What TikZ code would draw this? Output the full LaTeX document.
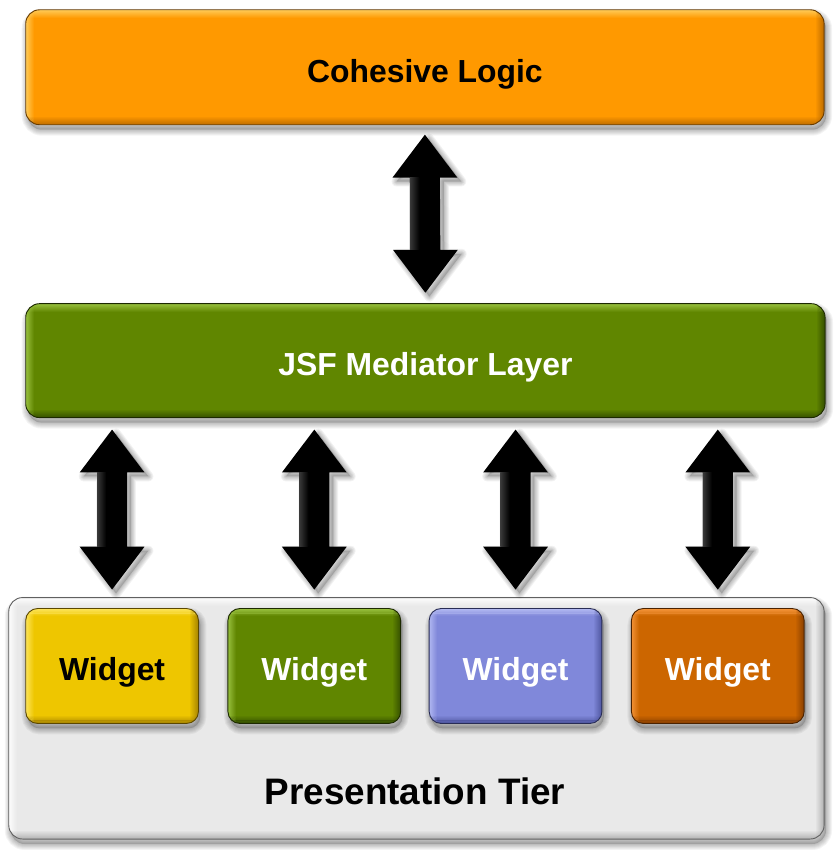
\documentclass[tikz,border=0pt]{standalone}
\usepackage{fontspec}
\setmainfont{Liberation Sans}
\usetikzlibrary{calc}
\pgfdeclarelayer{background}
\pgfsetlayers{background,main}

\definecolor{orangemain}{RGB}{255,153,0}
\definecolor{orangelight}{RGB}{255,210,100}
\definecolor{orangedark}{RGB}{185,105,0}
\definecolor{greenmain}{RGB}{96,134,0}
\definecolor{greenlight}{RGB}{160,200,70}
\definecolor{greendark}{RGB}{50,75,0}
\definecolor{yellowmain}{RGB}{238,198,0}
\definecolor{yellowlight}{RGB}{255,232,100}
\definecolor{yellowdark}{RGB}{165,130,0}
\definecolor{bluemain}{RGB}{128,136,218}
\definecolor{bluelight}{RGB}{185,192,245}
\definecolor{bluedark}{RGB}{75,82,155}
\definecolor{rustmain}{RGB}{204,102,0}
\definecolor{rustlight}{RGB}{250,155,65}
\definecolor{rustdark}{RGB}{135,62,0}
\definecolor{tiermain}{RGB}{233,233,233}
\definecolor{tierlight}{RGB}{255,255,255}
\definecolor{tierdark}{RGB}{175,175,175}

% soft drop shadow under a named box node: #1 node, #2 corner radius
\newcommand\boxshadow[2]{%
  \fill[black, opacity=0.16, rounded corners=#2]
    ($(#1.south west)+(2,5)$) rectangle ($(#1.north east)+(2,5)$);
  \foreach \k in {1,...,6}{%
    \draw[black, draw opacity=0.045, line width=2*\k pt, rounded corners=#2]
      ($(#1.south west)+(2,5)$) rectangle ($(#1.north east)+(2,5)$);
  }%
}

% bevelled fill of a named box node: #1 node, #2 radius, #3 main, #4 light, #5 dark
\newcommand\bevel[5]{%
  \begin{scope}
    \clip[rounded corners=#2] (#1.south west) rectangle (#1.north east);
    \fill[#3] (#1.south west) rectangle (#1.north east);
    \foreach \i in {0,...,7}{%
      \pgfmathsetmacro\op{0.85*(1-\i/8)}%
      \fill[#4, opacity=\op] ($(#1.north west)+(0,\i)$) rectangle ($(#1.north east)+(0,\i+1)$);
      \fill[#4, opacity=\op] ($(#1.north west)+(\i,0)$) rectangle ($(#1.south west)+(\i+1,0)$);
      \fill[#5, opacity=\op] ($(#1.south west)+(0,-\i)$) rectangle ($(#1.south east)+(0,-\i-1)$);
      \fill[#5, opacity=\op] ($(#1.north east)+(-\i,0)$) rectangle ($(#1.south east)+(-\i-1,0)$);
    }%
  \end{scope}
  \draw[#5!55!black, line width=0.9pt, rounded corners=#2]
    (#1.south west) rectangle (#1.north east);
}

% outline of a vertical double arrow between two tips, offset by (#3,#4)
\newcommand\arrowshape[5]{%
  \path[#5] ($(#1)+(#3,#4)$)
    -- ($(#1)+(32.5+#3,43+#4)$) -- ($(#1)+(15+#3,43+#4)$)
    -- ($(#2)+(15+#3,-43+#4)$) -- ($(#2)+(32.5+#3,-43+#4)$)
    -- ($(#2)+(#3,#4)$)
    -- ($(#2)+(-32.5+#3,-43+#4)$) -- ($(#2)+(-15+#3,-43+#4)$)
    -- ($(#1)+(-15+#3,43+#4)$) -- ($(#1)+(-32.5+#3,43+#4)$) -- cycle;%
}

% black double arrow with soft shadow: #1 upper tip, #2 lower tip
\newcommand\dblarrow[2]{%
  \arrowshape{#1}{#2}{4}{4}{fill=black, opacity=0.16}
  \foreach \k in {1,...,5}{%
    \arrowshape{#1}{#2}{4}{4}{draw=black, draw opacity=0.05, line width=2*\k pt, line join=round}
  }%
  \arrowshape{#1}{#2}{0}{0}{fill=black}
  \shade[left color=black!78, right color=black]
    ($(#1)+(-15,43)$) rectangle ($(#2)+(-6,-43)$);
}

\begin{document}
\begin{tikzpicture}[x=1pt,y=-1pt,
  slab/.style={inner sep=0pt, text height=30pt, text depth=0pt,
    font=\fontsize{32}{38}\selectfont\bfseries},
  layer/.style={slab, minimum height=115pt},
  widget/.style={slab, minimum width=173pt, minimum height=115pt},
]
% layers
\node[layer, minimum width=801pt, text=black] (logic) at (426.5,67.5) {Cohesive Logic};
\node[layer, minimum width=802pt, minimum height=114pt, text=white] (jsf) at (427,362) {JSF Mediator Layer};
\node[inner sep=0pt, minimum width=818pt, minimum height=242pt] (tier) at (418,721) {};
\node[anchor=base, inner sep=0pt, font=\fontsize{37}{44}\selectfont\bfseries]
  (tierlabel) at (416.5,808) {Presentation Tier};

% widgets
\node[widget, text=black] (w1) at (112.5,668.5) {Widget};
\node[widget, text=white] (w2) at (315.5,668.5) {Widget};
\node[widget, text=white] (w3) at (517.5,668.5) {Widget};
\node[widget, text=white] (w4) at (720.5,668.5) {Widget};

% arrow tips
\coordinate (a0t) at ($(logic.south)+(0,10)$);
\coordinate (a0b) at ($(jsf.north)+(0,-11)$);
\foreach \w in {w1,w2,w3,w4}{%
  \coordinate (\w t) at ($(\w.north |- jsf.south)+(0,12)$);
  \coordinate (\w b) at ($(\w.north)+(0,-19)$);
}

\begin{pgfonlayer}{background}
  \fill[white] (0,0) rectangle (837,850);
  \boxshadow{logic}{14pt}
  \bevel{logic}{14pt}{orangemain}{orangelight}{orangedark}
  \boxshadow{jsf}{14pt}
  \bevel{jsf}{14pt}{greenmain}{greenlight}{greendark}
  \boxshadow{tier}{14pt}
  \bevel{tier}{14pt}{tiermain}{tierlight}{tierdark}
  \boxshadow{w1}{12pt}
  \bevel{w1}{12pt}{yellowmain}{yellowlight}{yellowdark}
  \boxshadow{w2}{12pt}
  \bevel{w2}{12pt}{greenmain}{greenlight}{greendark}
  \boxshadow{w3}{12pt}
  \bevel{w3}{12pt}{bluemain}{bluelight}{bluedark}
  \boxshadow{w4}{12pt}
  \bevel{w4}{12pt}{rustmain}{rustlight}{rustdark}
  % connectors
  \dblarrow{a0t}{a0b}
  \dblarrow{w1t}{w1b}
  \dblarrow{w2t}{w2b}
  \dblarrow{w3t}{w3b}
  \dblarrow{w4t}{w4b}
\end{pgfonlayer}
\end{tikzpicture}
\end{document}
